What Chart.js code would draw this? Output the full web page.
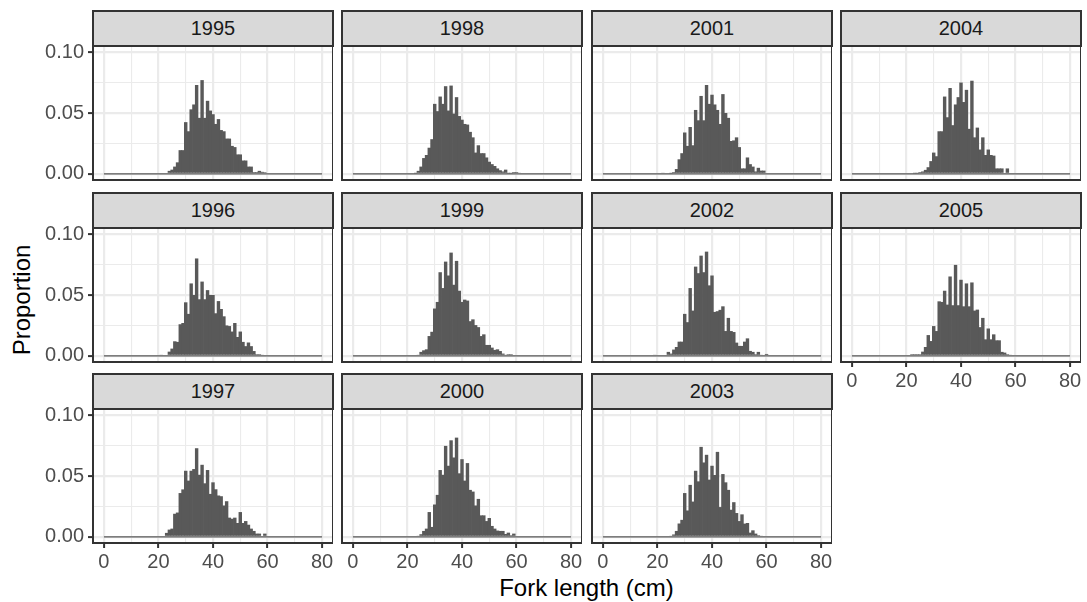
<!DOCTYPE html>
<html>
<head>
<meta charset="utf-8">
<script src="https://cdn.jsdelivr.net/npm/chart.js@4"></script>
<style>
  html, body { margin: 0; padding: 0; background: #fff; }
  #figure {
    position: relative; width: 1087px; height: 602px; overflow: hidden;
    font-family: "Liberation Sans", Arial, sans-serif;
  }
  .strip {
    position: absolute; box-sizing: border-box;
    background: #d9d9d9; border: 2px solid #333333; color: #1a1a1a;
    font-size: 20px; display: flex; align-items: center; justify-content: center;
  }
  canvas { position: absolute; }
  .axis-title { position: absolute; color: #000; font-size: 24px; white-space: nowrap; }
</style>
</head>
<body>
<div id="figure">
  <div class="axis-title" id="xtitle" style="left:93px; width:987px; top:574px; text-align:center;">Fork length (cm)</div>
  <div class="axis-title" id="ytitle" style="left:22px; top:300px; transform:translate(-50%,-50%) rotate(-90deg);">Proportion</div>
</div>
<script>
// fork length bins (cm), one bar per bin
const lengthsCm = [18, 19, 20, 21, 22, 23, 24, 25, 26, 27, 28, 29, 30, 31, 32,
  33, 34, 35, 36, 37, 38, 39, 40, 41, 42, 43, 44, 45, 46, 47, 48, 49, 50, 51,
  52, 53, 54, 55, 56, 57, 58, 59, 60, 61, 62];

const prop1995 = [0, 0, 0, 0, 0, 0,
  0.0025, 0.0035, 0.006, 0.0095, 0.0195, 0.0195, 0.0425, 0.035, 0.053, 0.057,
  0.073, 0.046, 0.077, 0.046, 0.060, 0.052, 0.049, 0.041, 0.045, 0.036,
  0.035, 0.029, 0.029, 0.023, 0.022, 0.016, 0.016, 0.011, 0.011, 0.006,
  0.006, 0.0015, 0.0015, 0.0025, 0.0017, 0.0014, 0, 0, 0];
const prop1996 = [0, 0, 0, 0.0008, 0, 0,
  0.0035, 0.006, 0.012, 0.0115, 0.026, 0.027, 0.044, 0.0345, 0.0595, 0.050,
  0.080, 0.0465, 0.061, 0.0465, 0.054, 0.050, 0.050, 0.035, 0.045, 0.0385,
  0.0325, 0.025, 0.0245, 0.020, 0.027, 0.0155, 0.020, 0.0115, 0.008, 0.011,
  0.008, 0.004, 0.0014, 0.0014, 0.0008, 0, 0, 0, 0];
const prop1997 = [0, 0, 0, 0, 0,
  0.0033, 0.006, 0.0068, 0.019, 0.020, 0.036, 0.039,
  0.0543, 0.0462, 0.0543, 0.0557, 0.0728, 0.051, 0.0592, 0.044, 0.0549, 0.0353,
  0.0448, 0.0391, 0.034, 0.0334, 0.0258, 0.0293, 0.0158, 0.0149, 0.0158, 0.0114,
  0.0204, 0.0114, 0.013, 0.010, 0.0068, 0.0049, 0.0027, 0.0027, 0, 0.0027,
  0, 0, 0];
const prop1998 = [0, 0, 0, 0, 0,
  0.0005, 0.0025, 0.006, 0.013, 0.0155, 0.0215, 0.0285,
  0.0575, 0.0515, 0.0635, 0.0575, 0.072, 0.052, 0.0725, 0.0495, 0.063, 0.0475,
  0.0445, 0.041, 0.0405, 0.0345, 0.030, 0.0175, 0.0235, 0.017, 0.017, 0.0135,
  0.010, 0.008, 0.0065, 0.0045, 0.003, 0.002, 0.0035, 0.0005, 0.0005, 0.0015,
  0.0015, 0.001, 0];
const prop1999 = [0, 0, 0, 0, 0, 0,
  0.0008, 0.0033, 0.0046, 0.0054, 0.0163, 0.0198, 0.0389, 0.0443, 0.0687, 0.0557,
  0.0774, 0.066, 0.0848, 0.0584, 0.078, 0.0535, 0.0443, 0.0462, 0.0454, 0.0285,
  0.030, 0.0253, 0.0236, 0.0163, 0.0177, 0.009, 0.009, 0.0068, 0.0049, 0.0054,
  0.004, 0.0019, 0.0008, 0.0014, 0.0014, 0, 0, 0, 0];
const prop2000 = [0, 0, 0, 0, 0, 0,
  0.0008, 0.0022, 0.0049, 0.0068, 0.0204, 0.0082, 0.0266, 0.0345, 0.0549, 0.051,
  0.0747, 0.0584, 0.0793, 0.0652, 0.0815, 0.0522, 0.0638, 0.0462, 0.0606, 0.0386,
  0.0372, 0.0258, 0.0312, 0.0177, 0.0177, 0.013, 0.0155, 0.009, 0.0068, 0.0052,
  0.0049, 0.0049, 0.0024, 0.0035, 0.0014, 0.0027, 0, 0, 0];
const prop2001 = [0, 0, 0, 0,
  0.0008, 0, 0, 0.0005, 0.0015, 0.004, 0.012, 0.017,
  0.034, 0.023, 0.0385, 0.0235, 0.0525, 0.044, 0.064, 0.044, 0.073, 0.0575,
  0.065, 0.057, 0.0525, 0.041, 0.0655, 0.050, 0.046, 0.027, 0.0275, 0.030,
  0.022, 0.0045, 0.0045, 0.0135, 0.008, 0.006, 0.002, 0.005, 0.0027, 0.0027,
  0, 0, 0];
const prop2002 = [0, 0.0008, 0, 0, 0, 0,
  0.0033, 0.0019, 0.0052, 0.0073, 0.0117, 0.0117, 0.0345, 0.0277, 0.0557, 0.0372,
  0.0733, 0.0679, 0.0823, 0.0687, 0.0856, 0.0579, 0.066, 0.0361, 0.0367, 0.0378,
  0.0407, 0.0204, 0.0312, 0.0204, 0.0196, 0.0109, 0.0082, 0.0082, 0.0117, 0.0144,
  0.0041, 0.0033, 0.0014, 0.0033, 0.0008, 0, 0.0016, 0, 0];
const prop2003 = [0, 0, 0, 0, 0, 0, 0,
  0.001, 0.002, 0.0049, 0.011, 0.014,
  0.036, 0.0217, 0.0427, 0.029, 0.0543, 0.0456, 0.0739, 0.0611, 0.0674, 0.047,
  0.0584, 0.0508, 0.0698, 0.0245, 0.0516, 0.0448, 0.0386, 0.0223, 0.0285, 0.0196,
  0.013, 0.0185, 0.0109, 0.0114, 0.0035, 0.0054, 0.0027, 0.0014, 0.0008,
  0, 0, 0, 0];
const prop2004 = [0, 0, 0, 0, 0,
  0.0005, 0.0005, 0.0015, 0.002, 0.0033, 0.0055, 0.0105,
  0.0175, 0.0145, 0.035, 0.035, 0.0635, 0.0465, 0.0705, 0.040, 0.057, 0.063,
  0.075, 0.059, 0.069, 0.037, 0.0765, 0.030, 0.038, 0.020, 0.030, 0.0155,
  0.020, 0.0155, 0.015, 0.0045, 0.0045, 0.0045, 0, 0.0045,
  0, 0, 0, 0, 0];
const prop2005 = [0, 0, 0, 0,
  0.0014, 0.0014, 0.0014, 0.0014, 0.0035, 0.0073, 0.0171, 0.0122,
  0.0245, 0.0204, 0.0448, 0.0443, 0.0535, 0.0421, 0.0652, 0.0416, 0.0747, 0.0416,
  0.0625, 0.0407, 0.0595, 0.0407, 0.0603, 0.0372, 0.038, 0.0236, 0.0312, 0.0136,
  0.0225, 0.0136, 0.0177, 0.0128, 0.0128, 0.0033, 0.0027, 0.0014, 0.0008,
  0, 0, 0, 0];

const years = ['1995', '1996', '1997', '1998', '1999', '2000', '2001', '2002', '2003', '2004', '2005'];
const yearValues = [prop1995, prop1996, prop1997, prop1998, prop1999, prop2000,
  prop2001, prop2002, prop2003, prop2004, prop2005];

const xTicks = [0, 10, 20, 30, 40, 50, 60, 70, 80];
const yTicks = [0, 0.025, 0.05, 0.075, 0.1];
const baseline = [{ x: 0, y: 0 }, { x: 80, y: 0 }];

// layout (px)
const N_ROWS = 3;
const PANEL_LEFT = 93, COL_PITCH = 249.3, PANEL_W = 240;
const STRIP_TOP = 10, ROW_PITCH = 181.5, STRIP_H = 36, PANEL_H = 134;
const Y_AXIS_W = 90, X_AXIS_H = 36, TOP_PAD = 14;

const FONT = '"Liberation Sans", Arial, sans-serif';
const GRID = '#ebebeb';
const INK = '#333333';

const isMajor = (v, step) => Math.abs(v / step - Math.round(v / step)) < 1e-6;

const panelBorder = {
  id: 'panelBorder',
  afterDraw(chart) {
    const { ctx, chartArea: a } = chart;
    ctx.save();
    ctx.strokeStyle = INK;
    ctx.lineWidth = 2;
    ctx.strokeRect(a.left, a.top, a.width, a.height);
    ctx.restore();
  },
};

function makePanel(year, values, col, row, showX, showY) {
  const fig = document.getElementById('figure');
  const left = Math.round(PANEL_LEFT + col * COL_PITCH);
  const top = Math.round(STRIP_TOP + row * ROW_PITCH);

  const strip = document.createElement('div');
  strip.className = 'strip';
  strip.textContent = year;
  strip.style.left = (left - 1) + 'px';
  strip.style.top = top + 'px';
  strip.style.width = (PANEL_W + 2) + 'px';
  strip.style.height = (STRIP_H + 1) + 'px';
  fig.appendChild(strip);

  // canvas reaches a bit above the panel so the top tick label is not cut
  const canvas = document.createElement('canvas');
  canvas.width = Y_AXIS_W + PANEL_W;
  canvas.height = TOP_PAD + PANEL_H + X_AXIS_H;
  canvas.style.left = (left - Y_AXIS_W) + 'px';
  canvas.style.top = (top + STRIP_H - TOP_PAD) + 'px';
  canvas.style.width = canvas.width + 'px';
  canvas.style.height = canvas.height + 'px';
  fig.appendChild(canvas);

  const bars = lengthsCm.map((x, i) => ({ x, y: values[i] }));

  return new Chart(canvas, {
    type: 'bar',
    data: {
      datasets: [
        {
          type: 'line',
          data: baseline,
          borderColor: '#595959',
          borderWidth: 1.2,
          pointRadius: 0,
        },
        {
          data: bars,
          backgroundColor: '#595959',
          borderWidth: 0,
          barPercentage: 1.25,
          categoryPercentage: 1,
        },
      ],
    },
    options: {
      responsive: false,
      animation: false,
      events: [],
      layout: { padding: { top: TOP_PAD, left: 0, right: 0, bottom: 0 }, autoPadding: false },
      plugins: { legend: { display: false }, tooltip: { enabled: false } },
      scales: {
        x: {
          type: 'linear',
          min: -4,
          max: 84,
          offset: false,
          afterBuildTicks: (s) => { s.ticks = xTicks.map((value) => ({ value })); },
          afterFit: (s) => {
            s.height = X_AXIS_H;
            s.paddingLeft = 0;
            s.paddingRight = 0;
          },
          border: { display: false },
          grid: {
            offset: false,
            color: GRID,
            lineWidth: (c) => (isMajor(c.tick.value, 20) ? 2.2 : 1.1),
            drawTicks: showX,
            tickLength: 5,
            tickWidth: 2,
            tickColor: (c) => (isMajor(c.tick.value, 20) ? INK : 'rgba(0,0,0,0)'),
          },
          ticks: {
            display: showX,
            autoSkip: false,
            maxRotation: 0,
            padding: 2,
            color: '#4d4d4d',
            font: { family: FONT, size: 20 },
            callback: (v) => (isMajor(v, 20) ? String(v) : ''),
          },
        },
        y: {
          type: 'linear',
          min: -0.005,
          max: 0.105,
          afterBuildTicks: (s) => { s.ticks = yTicks.map((value) => ({ value })); },
          afterFit: (s) => {
            s.width = Y_AXIS_W;
            s.paddingTop = 0;
            s.paddingBottom = 0;
          },
          border: { display: false },
          grid: {
            color: GRID,
            lineWidth: (c) => (isMajor(c.tick.value, 0.05) ? 2.2 : 1.1),
            drawTicks: showY,
            tickLength: 5,
            tickWidth: 2,
            tickColor: (c) => (isMajor(c.tick.value, 0.05) ? INK : 'rgba(0,0,0,0)'),
          },
          ticks: {
            display: showY,
            autoSkip: false,
            padding: 4,
            color: '#4d4d4d',
            font: { family: FONT, size: 20 },
            callback: (v) => (isMajor(v, 0.05) ? v.toFixed(2) : ''),
          },
        },
      },
    },
    plugins: [panelBorder],
  });
}

years.forEach((year, k) => {
  const col = Math.floor(k / N_ROWS);
  const row = k % N_ROWS;
  const lastInCol = row === N_ROWS - 1 || k === years.length - 1;
  makePanel(year, yearValues[k], col, row, lastInCol, col === 0);
});
</script>
</body>
</html>
